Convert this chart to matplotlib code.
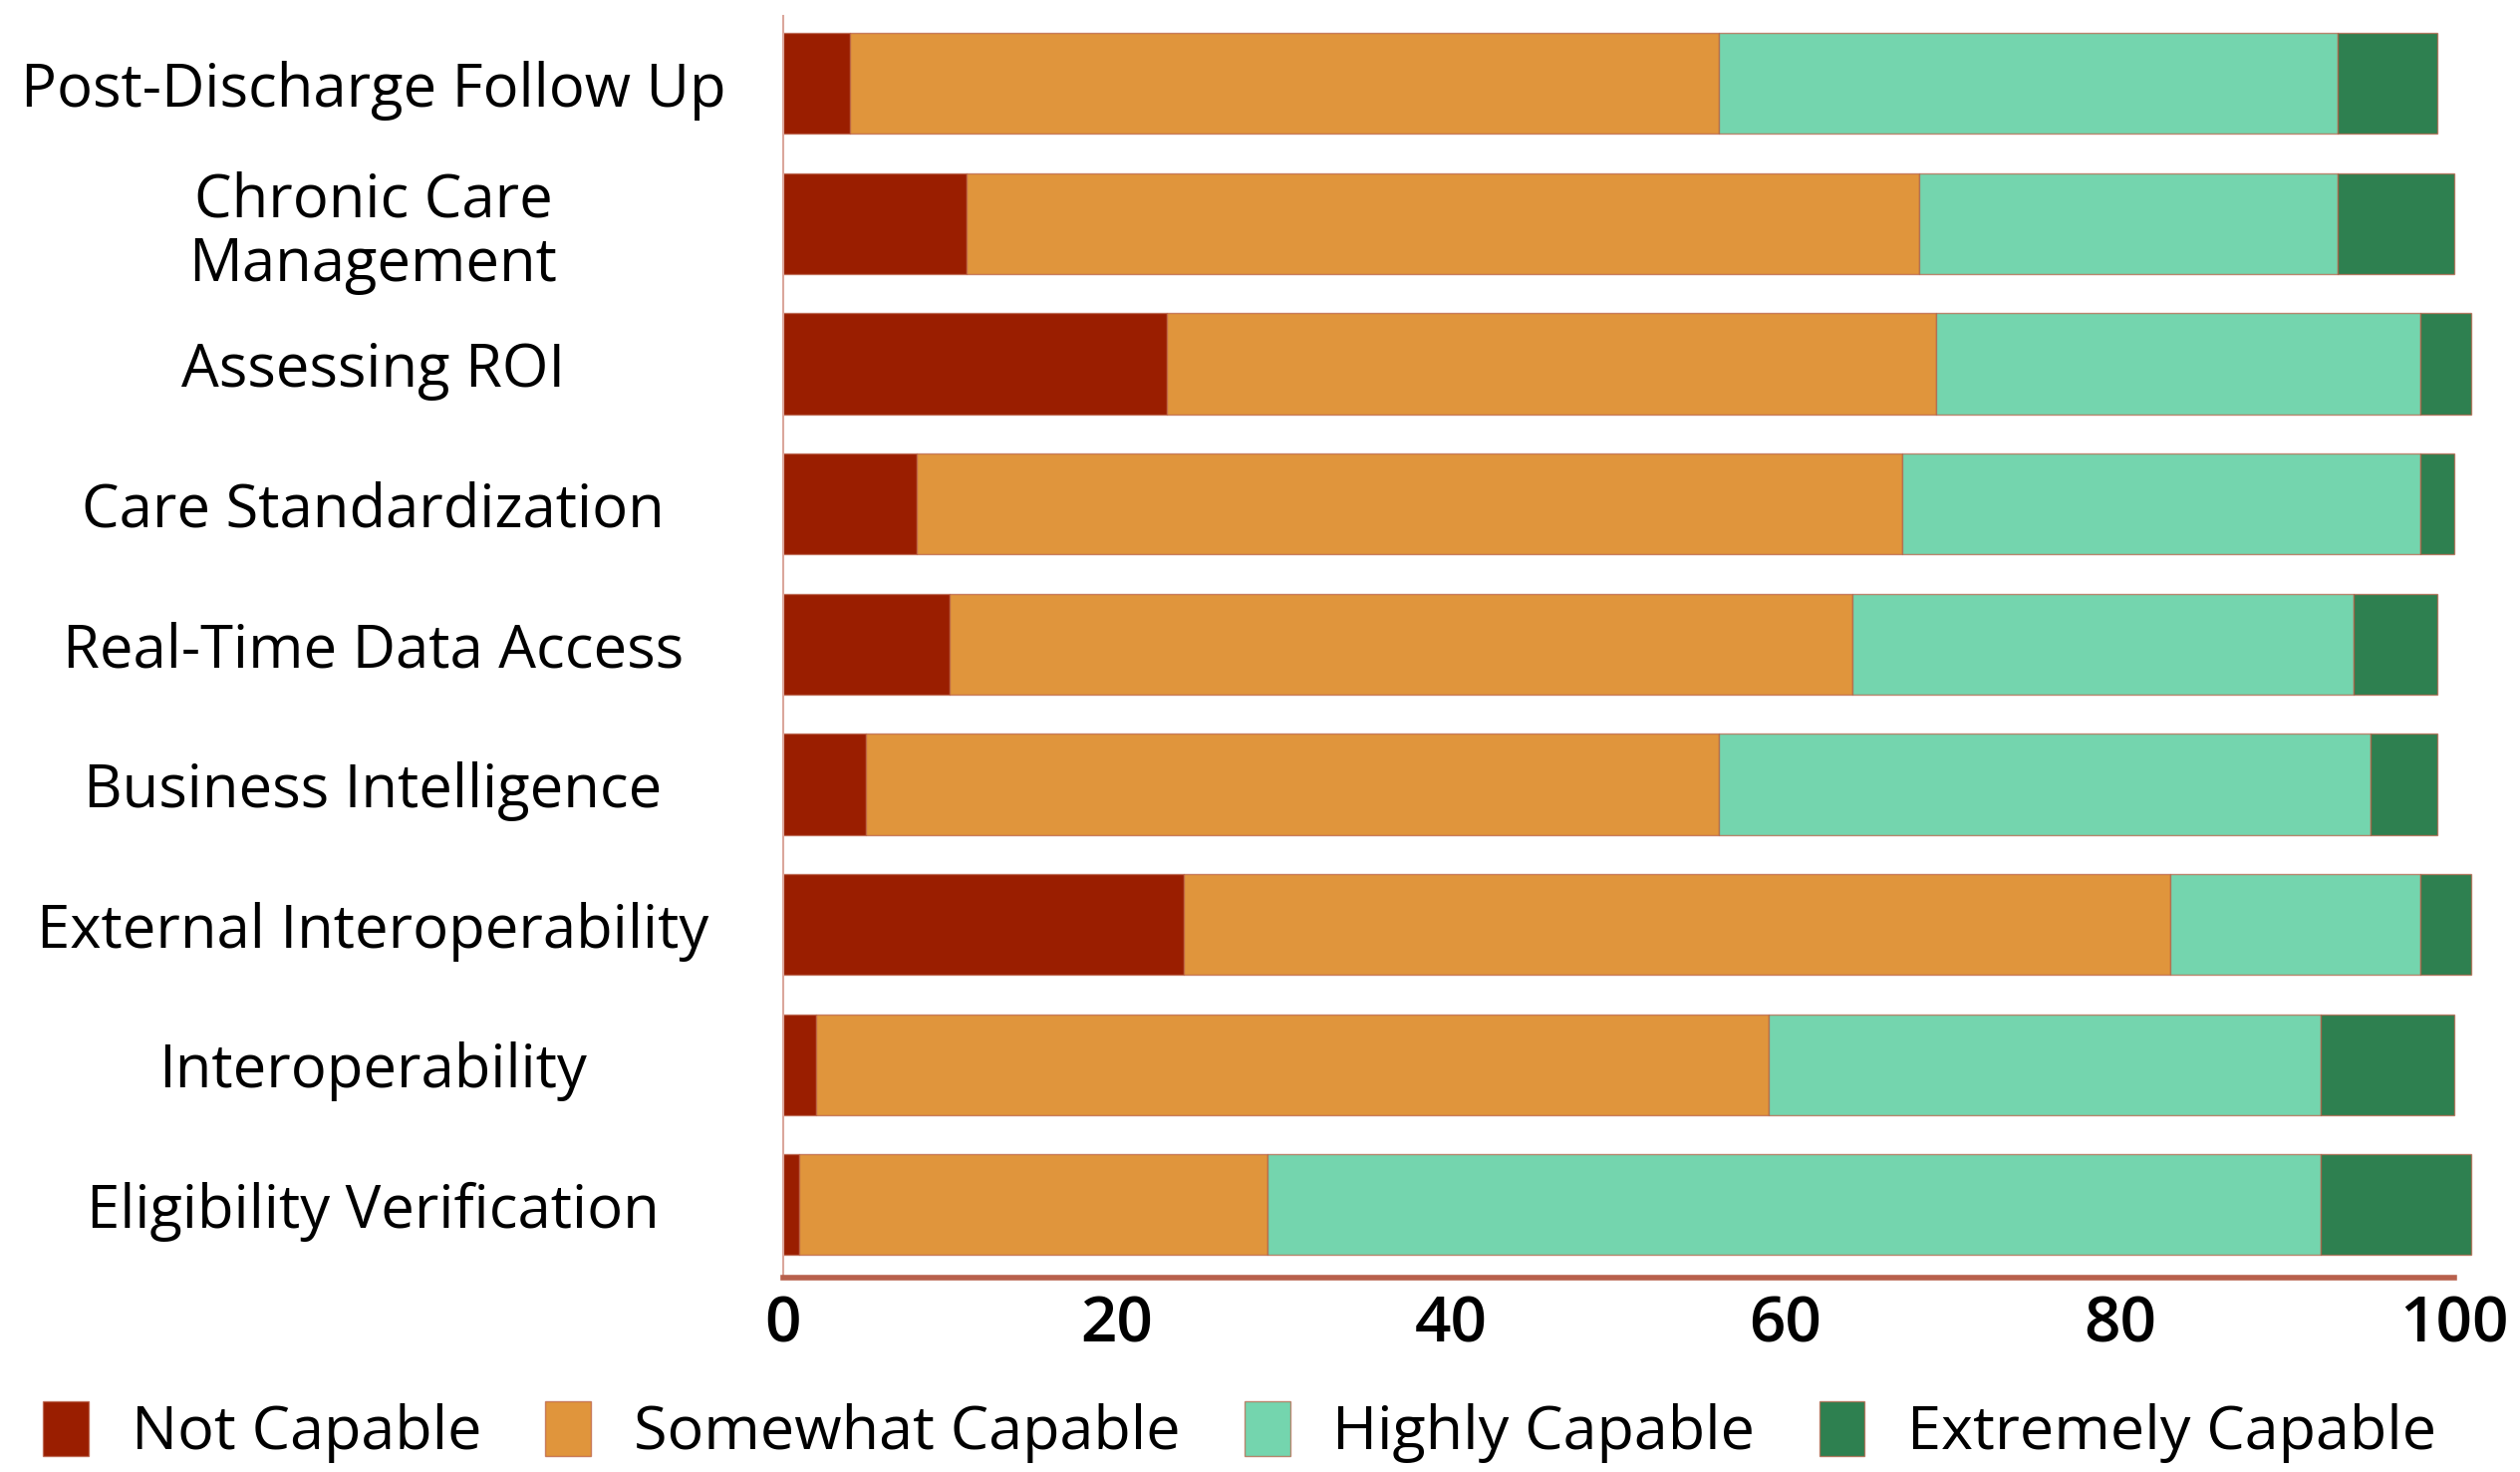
import matplotlib
matplotlib.use('Agg')
import matplotlib.pyplot as plt
import numpy as np

categories = [
    'Post-Discharge Follow Up',
    'Chronic Care\nManagement',
    'Assessing ROI',
    'Care Standardization',
    'Real-Time Data Access',
    'Business Intelligence',
    'External Interoperability',
    'Interoperability',
    'Eligibility Verification',
]
series_names = ['Not Capable', 'Somewhat Capable', 'Highly Capable', 'Extremely Capable']
not_capable = [4, 11, 23, 8, 10, 5, 24, 2, 1]
somewhat_capable = [52, 57, 46, 59, 54, 51, 59, 57, 28]
highly_capable = [37, 25, 29, 31, 30, 39, 15, 33, 63]
extremely_capable = [6, 7, 3, 2, 5, 4, 3, 8, 9]
xtick_values = [0, 20, 40, 60, 80, 100]

colors = ['#9a1e00', '#e0953c', '#74d5ae', '#2e8050']

plt.rcParams['font.family'] = ['Open Sans', 'DejaVu Sans']

fig = plt.figure(figsize=(25.29, 14.77), dpi=100)
ax = fig.add_axes([0.3106, 0.1321, 0.6633, 0.8569])

y = np.arange(len(categories))
left = np.zeros(len(categories))
handles = []
for name, vals, color in zip(series_names,
                             [not_capable, somewhat_capable, highly_capable, extremely_capable],
                             colors):
    bars = ax.barh(y, vals, left=left, height=0.72, color=color,
                   edgecolor=(0.72, 0.36, 0.26, 0.7), linewidth=1.0,
                   label=name, clip_on=False)
    handles.append(bars)
    left = left + np.array(vals)

ax.set_xlim(0, 100)
ax.set_ylim(8.52, -0.48)

ax.set_yticks(y)
ax.set_yticklabels(categories, ha='center', fontsize=43, linespacing=1.1)
ax.tick_params(axis='y', length=0, pad=296)
for lbl in ax.get_yticklabels():
    lbl.set_va('center_baseline')

ax.set_xticks(xtick_values)
ax.set_xticklabels([str(v) for v in xtick_values], fontsize=46, fontweight='semibold')
ax.tick_params(axis='x', length=0, pad=12)

for side in ['top', 'right']:
    ax.spines[side].set_visible(False)
ax.spines['left'].set_color('#dba79c')
ax.spines['left'].set_linewidth(1.5)
ax.spines['bottom'].set_color('#b8604c')
ax.spines['bottom'].set_linewidth(4)
ax.spines['bottom'].set_bounds(0, 100)

fig.legend(handles=handles, labels=series_names, loc='center',
           bbox_to_anchor=(0.492, 0.027), ncol=4, frameon=False,
           fontsize=44, handlelength=0.75, handleheight=1.0,
           handletextpad=0.7, columnspacing=1.05)

fig.savefig('out.png', dpi=100)
